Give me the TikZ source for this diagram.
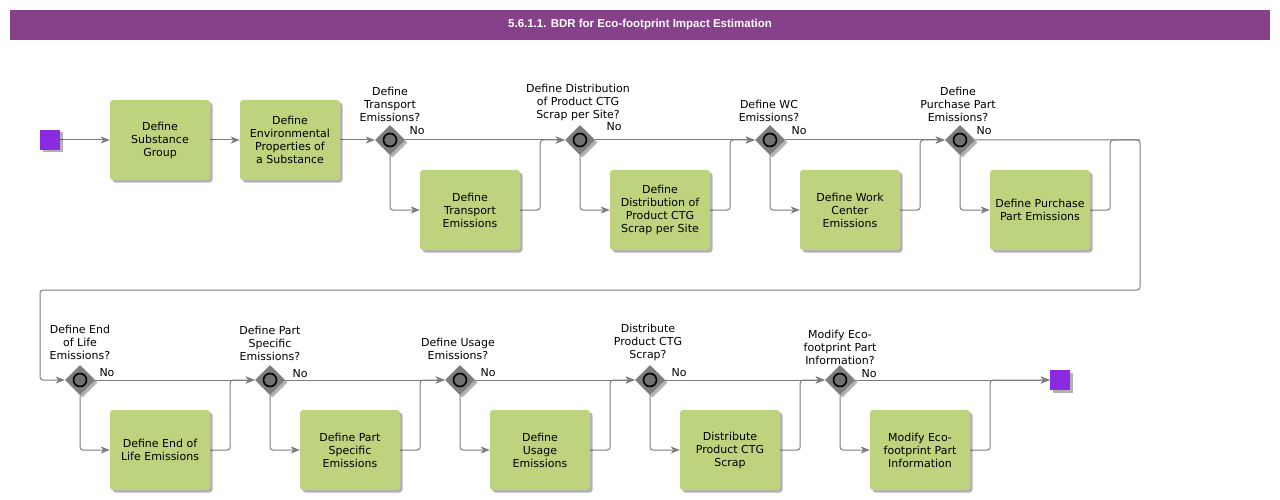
\documentclass[tikz,border=0pt]{standalone}
\usepackage{fontspec}
\setmainfont{DejaVu Sans}
\newfontfamily\titlefont{Liberation Sans}
\usetikzlibrary{arrows.meta}
\usetikzlibrary{shapes.geometric}
\usetikzlibrary{shadows}
\pgfdeclarelayer{edgelayer}
\pgfdeclarelayer{nodelayer}
\pgfsetlayers{edgelayer,nodelayer,main}
\definecolor{TitleBar}{RGB}{135,64,138}
\definecolor{TaskFill}{RGB}{189,211,126}
\definecolor{GateFill}{RGB}{125,125,125}
\definecolor{EventFill}{RGB}{138,43,226}
\definecolor{FlowLine}{RGB}{125,125,125}
\tikzstyle{titlebar}=[rectangle,fill=TitleBar,text=white,minimum width=1260pt,minimum height=30pt,inner sep=0pt,font=\titlefont\bfseries\fontsize{11.5}{13}\selectfont]
\tikzstyle{task}=[rectangle,rounded corners=3pt,fill=TaskFill,minimum width=100pt,minimum height=80pt,inner sep=0pt,align=center,drop shadow={shadow xshift=2.5pt,shadow yshift=-2.5pt,opacity=0.3,fill=black}]
\tikzstyle{gate}=[diamond,fill=GateFill,minimum width=30pt,minimum height=30pt,inner sep=0pt,drop shadow={shadow xshift=2.5pt,shadow yshift=-2.5pt,opacity=0.3,fill=black},path picture={\draw [line width=1.6pt,fill=GateFill!90!black] (path picture bounding box.center) circle (6.5pt);}]
\tikzstyle{event}=[rectangle,fill=EventFill,minimum size=20pt,inner sep=0pt,drop shadow={shadow xshift=2.5pt,shadow yshift=-2.5pt,opacity=0.3,fill=black}]
\tikzstyle{question}=[anchor=south,inner sep=0pt,align=center]
\tikzstyle{guard}=[inner sep=0pt]
\tikzstyle{flow}=[draw=FlowLine,line width=1pt,rounded corners=3pt,-{Stealth[length=9pt,width=7pt,inset=2.5pt]}]
\tikzstyle{merge}=[draw=FlowLine,line width=1pt,rounded corners=3pt]

\begin{document}
\begin{tikzpicture}[x=1pt,y=-1pt,font=\fontsize{11}{13}\selectfont]
	\useasboundingbox (0,0) rectangle (1280,500);
	\begin{pgfonlayer}{nodelayer}
		\node [style=titlebar] (0) at (640, 25) {5.6.1.1. BDR for Eco-footprint Impact Estimation};
		\node [style=event] (1) at (50, 140) {};
		\node [style=task] (2) at (160, 140) {Define\\Substance\\Group};
		\node [style=task] (3) at (290, 140) {Define\\Environmental\\Properties of\\a Substance};
		\node [style=gate] (4) at (390, 140) {};
		\node [style=task] (5) at (470, 210) {Define\\Transport\\Emissions};
		\node [style=gate] (6) at (580, 140) {};
		\node [style=task] (7) at (660, 210) {Define\\Distribution of\\Product CTG\\Scrap per Site};
		\node [style=gate] (8) at (770, 140) {};
		\node [style=task] (9) at (850, 210) {Define Work\\Center\\Emissions};
		\node [style=gate] (10) at (960, 140) {};
		\node [style=task] (11) at (1040, 210) {Define Purchase\\Part Emissions};
		\node [style=gate] (12) at (80, 380) {};
		\node [style=task] (13) at (160, 450) {Define End of\\Life Emissions};
		\node [style=gate] (14) at (270, 380) {};
		\node [style=task] (15) at (350, 450) {Define Part\\Specific\\Emissions};
		\node [style=gate] (16) at (460, 380) {};
		\node [style=task] (17) at (540, 450) {Define\\Usage\\Emissions};
		\node [style=gate] (18) at (650, 380) {};
		\node [style=task] (19) at (730, 450) {Distribute\\Product CTG\\Scrap};
		\node [style=gate] (20) at (840, 380) {};
		\node [style=task] (21) at (920, 450) {Modify Eco-\\footprint Part\\Information};
		\node [style=event] (22) at (1060, 380) {};
		\node [style=question] (23) at (390, 122) {Define\\Transport\\Emissions?};
		\node [style=question] (24) at (578, 121) {Define Distribution\\of Product CTG\\Scrap per Site?};
		\node [style=question] (25) at (769, 122) {Define WC\\Emissions?};
		\node [style=question] (26) at (958, 122) {Define\\Purchase Part\\Emissions?};
		\node [style=question] (27) at (80, 360) {Define End\\of Life\\Emissions?};
		\node [style=question] (28) at (270, 361) {Define Part\\Specific\\Emissions?};
		\node [style=question] (29) at (458, 360) {Define Usage\\Emissions?};
		\node [style=question] (30) at (648, 361) {Distribute\\Product CTG\\Scrap?};
		\node [style=question] (31) at (840, 365) {Modify Eco-\\footprint Part\\Information?};
		\node [style=guard] (32) at (417, 131) {No};
		\node [style=guard] (33) at (614, 127) {No};
		\node [style=guard] (34) at (799, 131) {No};
		\node [style=guard] (35) at (984, 131) {No};
		\node [style=guard] (36) at (107, 373) {No};
		\node [style=guard] (37) at (300, 374) {No};
		\node [style=guard] (38) at (488, 373) {No};
		\node [style=guard] (39) at (679, 373) {No};
		\node [style=guard] (40) at (869, 374) {No};
		\coordinate (41) at (1140, 290);
		\coordinate (42) at (40, 290);
		\coordinate (43) at (1140, 140);
	\end{pgfonlayer}
	\begin{pgfonlayer}{edgelayer}
		\draw [style=flow] (1) to (2);
		\draw [style=flow] (2) to (3);
		\draw [style=flow] (3) to (4);
		\draw [style=flow] (4) to (6);
		\draw [style=flow] (4.south) |- (5.west);
		\draw [style=flow] (5.east) -- ++(20, 0) |- (6.west);
		\draw [style=flow] (6) to (8);
		\draw [style=flow] (6.south) |- (7.west);
		\draw [style=flow] (7.east) -- ++(20, 0) |- (8.west);
		\draw [style=flow] (8) to (10);
		\draw [style=flow] (8.south) |- (9.west);
		\draw [style=flow] (9.east) -- ++(20, 0) |- (10.west);
		\draw [style=flow] (10.south) |- (11.west);
		\draw [style=merge] (11.east) -- ++(20, 0) |- (43);
		\draw [style=flow] (10.east) -| (41) -- (42) |- (12.west);
		\draw [style=flow] (12) to (14);
		\draw [style=flow] (12.south) |- (13.west);
		\draw [style=flow] (13.east) -- ++(20, 0) |- (14.west);
		\draw [style=flow] (14) to (16);
		\draw [style=flow] (14.south) |- (15.west);
		\draw [style=flow] (15.east) -- ++(20, 0) |- (16.west);
		\draw [style=flow] (16) to (18);
		\draw [style=flow] (16.south) |- (17.west);
		\draw [style=flow] (17.east) -- ++(20, 0) |- (18.west);
		\draw [style=flow] (18) to (20);
		\draw [style=flow] (18.south) |- (19.west);
		\draw [style=flow] (19.east) -- ++(20, 0) |- (20.west);
		\draw [style=flow] (20) to (22);
		\draw [style=flow] (20.south) |- (21.west);
		\draw [style=flow] (21.east) -- ++(20, 0) |- (22.west);
	\end{pgfonlayer}
\end{tikzpicture}
\end{document}
